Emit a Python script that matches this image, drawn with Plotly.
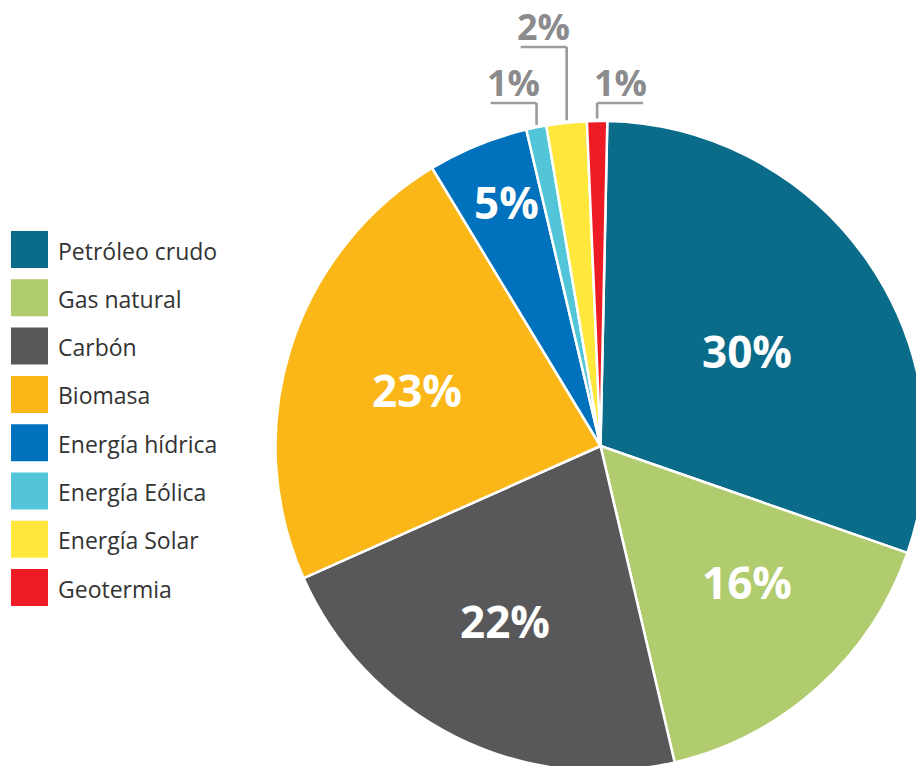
import math
import plotly.graph_objects as go

# Energy mix shares (%)
categories = ["Petróleo crudo", "Gas natural", "Carbón", "Biomasa",
              "Energía hídrica", "Energía Eólica", "Energía Solar", "Geotermia"]
shares = [30, 16, 22, 23, 5, 1, 2, 1]
colors = ["#0b6c89", "#b1cb6f", "#58585a", "#fbb617",
          "#0071bc", "#52c6d8", "#ffe83b", "#ed1c24"]

# Canvas and pie geometry (pixels)
W, H = 926, 772
CX, CY, R = 600.5, 446, 325
ROTATION = 1.2
SMALL = 5  # slices below this share get an outside callout

# Inside label placement: radius fraction and angular nudge (deg) per slice
label_rfrac = [0.536, 0.622, 0.62, 0.59, 0.803, 0, 0, 0]
label_nudge = [2.5, -4.7, 1.9, -1.1, 0.9, 0, 0, 0]
LABEL_DY = -2

# Callout styling for the thin slices: height of the elbow and side
callout_y = {5: 103, 6: 47, 7: 103}
callout_side = {5: -1, 6: -1, 7: 1}
CALLOUT_LEN = 46

FONT = "Open Sans"


def px(x):
    return x / W


def py(y):
    return 1 - y / H


fig = go.Figure(go.Pie(
    labels=categories,
    values=shares,
    textinfo="none",
    marker=dict(colors=colors, line=dict(color="white", width=2.5)),
    sort=False,
    direction="clockwise",
    rotation=ROTATION,
    hoverinfo="label+percent",
    showlegend=False,
    domain=dict(x=[px(CX - R), px(CX + R)], y=[py(CY + R), py(CY - R)]),
))

shapes = []
annotations = []

total = sum(shares)
cum = 0
RV = R - 1.5  # visible radius inside the white outline
for i, v in enumerate(shares):
    mid_deg = ROTATION + 360 * (cum + v / 2) / total
    cum += v
    if v >= SMALL:
        # value label inside the slice
        a = math.radians(mid_deg + label_nudge[i])
        r = RV * label_rfrac[i]
        annotations.append(dict(
            text=f"{v}%", xref="paper", yref="paper",
            x=px(CX + r * math.sin(a)), y=py(CY - r * math.cos(a) + LABEL_DY),
            xanchor="center", yanchor="middle", showarrow=False,
            font=dict(family=FONT, size=44, color="white", weight="bold"),
        ))
        continue
    # elbow callout for thin slices
    mid = math.radians(mid_deg)
    ex = CX + RV * math.sin(mid)
    ey = CY - RV * math.cos(mid)
    top = callout_y[i]
    side = callout_side[i]
    hx = ex + side * CALLOUT_LEN
    line = dict(color="#9b9b9d", width=2.6)
    shapes.append(dict(type="line", xref="paper", yref="paper",
                       x0=px(ex), y0=py(ey - 4), x1=px(ex), y1=py(top),
                       line=line))
    shapes.append(dict(type="line", xref="paper", yref="paper",
                       x0=px(ex), y0=py(top), x1=px(hx), y1=py(top),
                       line=line))
    annotations.append(dict(
        text=f"{v}%", xref="paper", yref="paper",
        x=px((ex + hx) / 2), y=py(top - 21),
        xanchor="center", yanchor="middle", showarrow=False,
        font=dict(family=FONT, size=36, color="#8b8b8d", weight="bold"),
    ))

# Legend: colour squares with labels
LEG_X, LEG_Y, LEG_SIZE, LEG_STEP = 11, 231, 37, 48.3
for i, (name, c) in enumerate(zip(categories, colors)):
    y0 = LEG_Y + i * LEG_STEP
    shapes.append(dict(type="rect", xref="paper", yref="paper",
                       x0=px(LEG_X), x1=px(LEG_X + LEG_SIZE),
                       y0=py(y0), y1=py(y0 + LEG_SIZE),
                       fillcolor=c, line=dict(width=0)))
    annotations.append(dict(
        text=name, xref="paper", yref="paper",
        x=px(56), y=py(y0 + LEG_SIZE / 2 + 1),
        xanchor="left", yanchor="middle", showarrow=False,
        font=dict(family=FONT, size=23, color="#333333"),
    ))

fig.update_layout(
    width=W, height=H,
    margin=dict(l=0, r=0, t=0, b=0),
    paper_bgcolor="white", plot_bgcolor="white",
    shapes=shapes, annotations=annotations,
)

fig.write_html(
    "out.html",
    post_script="document.documentElement.style.overflow='hidden';"
                "document.body.style.overflow='hidden';",
)
